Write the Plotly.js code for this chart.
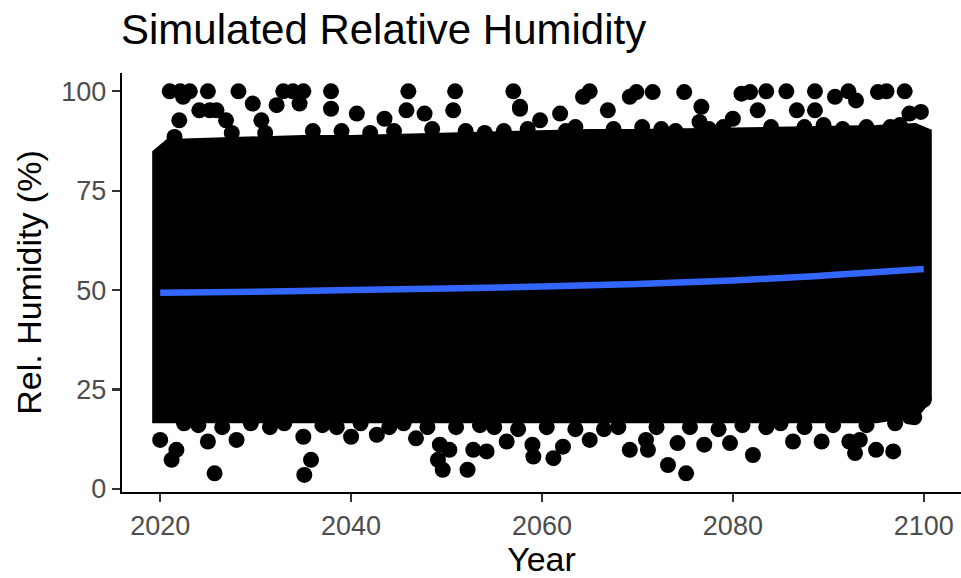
<!DOCTYPE html>
<html>
<head>
<meta charset="utf-8">
<script src="https://cdn.plot.ly/plotly-3.0.1.min.js"></script>
<style>
  html, body { margin: 0; padding: 0; background: #ffffff; }
  #chart { width: 961px; height: 578px; }
</style>
</head>
<body>
<div id="chart"></div>
<script>
// Dense body of the simulated cloud: upper and lower envelope (marker centres) by year
const envYears = [2020, 2021, 2025, 2030, 2035, 2040, 2045, 2050, 2055, 2060, 2065, 2070, 2075, 2080, 2085, 2090, 2095, 2099, 2100];
const envUpper = [84, 86, 86.5, 86.5, 87, 87, 87.5, 87.5, 88, 88, 88.5, 88.5, 88.5, 89, 89, 89, 89.5, 90, 89];
const envLower = [18.5, 18.5, 19, 19, 19.5, 19.5, 19, 19, 18.5, 18.5, 18.5, 18.5, 18.5, 18.5, 18.5, 18.5, 18.5, 20, 23];

// Individual humid days standing out above the cloud
const highYears = [2021.0, 2022.1, 2023.1, 2025.0, 2028.2, 2032.9, 2033.9, 2035.0, 2037.9, 2046.0, 2050.9, 2057.0,
  2022.4, 2029.7, 2032.2, 2034.6, 2024.1, 2025.2, 2025.9, 2022.0, 2030.6, 2057.7, 2037.9, 2045.8, 2047.7, 2050.7, 2040.6, 2043.5, 2026.9,
  2065.0, 2064.3, 2069.9, 2069.2, 2071.6, 2074.9, 2076.7, 2080.9, 2081.8, 2083.5, 2085.6, 2088.6, 2090.7, 2092.1, 2092.9, 2095.2, 2096.1, 2098.0,
  2088.6, 2086.7, 2082.6, 2066.9, 2061.9, 2059.8, 2057.7, 2099.7, 2098.5, 2080.0, 2076.5,
  2021.5, 2027.5, 2031.0, 2036.0, 2039.0, 2042.0, 2044.5, 2048.5, 2052.0, 2054.0, 2056.0, 2058.5, 2062.5, 2063.5,
  2067.5, 2070.5, 2072.5, 2074.0, 2077.5, 2079.0, 2084.0, 2087.5, 2089.5, 2091.5, 2094.0, 2096.5, 2097.5];
const highValues = [100, 100, 100, 100, 100, 100, 100, 100, 100, 100, 100, 100,
  98.6, 96.9, 96.5, 96.9, 95.2, 95.2, 95.2, 92.7, 92.7, 95.6, 95.6, 95.2, 94.4, 95.2, 94.4, 93.1, 92.7,
  100, 98.6, 99.8, 98.6, 99.8, 99.8, 96.1, 99.4, 99.8, 100, 100, 100, 98.6, 100, 97.7, 99.8, 100, 100,
  95.2, 95.2, 95.2, 95.2, 94.4, 92.7, 96.1, 94.8, 94.4, 93.1, 92.3,
  88.5, 89.5, 89.5, 90, 90, 89.5, 90, 90.5, 90, 89.5, 90, 90.5, 90, 91,
  90.5, 91, 90.5, 90, 90.5, 91, 91, 91, 91.5, 90.5, 91, 91, 91.5];

// Individual dry days standing out below the cloud
const lowYears = [2021.2, 2021.7, 2020.0, 2025.7, 2025.0, 2028.0, 2035.1, 2035.8, 2035.0, 2040.0, 2042.7, 2046.8,
  2049.1, 2049.6, 2049.3, 2050.3, 2052.2, 2052.8, 2054.2, 2056.3, 2059.1, 2061.2, 2062.2, 2069.2, 2071.1, 2070.9,
  2073.2, 2075.1, 2074.2, 2077.0, 2079.7, 2082.1, 2086.3, 2089.3, 2092.2, 2093.3, 2092.8, 2095.0, 2096.8, 2065.0,
  2059.0, 2098.5, 2100.0,
  2022.5, 2024.0, 2026.5, 2029.5, 2031.5, 2033.0, 2037.0, 2038.5, 2041.0, 2044.0, 2045.5, 2048.0, 2051.0, 2053.5,
  2055.0, 2057.5, 2060.5, 2063.5, 2066.5, 2068.0, 2072.0, 2075.5, 2078.5, 2081.0, 2083.5, 2085.0, 2087.5, 2090.5,
  2094.0, 2097.0, 2099.0];
const lowValues = [7.3, 9.8, 12.3, 3.9, 11.9, 12.3, 3.5, 7.3, 13.1, 13.1, 13.6, 12.7,
  7.3, 4.8, 11.1, 9.8, 4.8, 9.8, 9.4, 11.9, 8.1, 7.7, 10.6, 9.8, 9.8, 12.3,
  6.0, 3.9, 11.5, 11.1, 11.5, 8.5, 11.9, 11.9, 11.9, 12.3, 9.0, 9.8, 9.4, 12.3,
  11.1, 18.2, 22.4,
  16.5, 16, 15.5, 16.5, 15.5, 16.5, 16, 15.5, 16.5, 15.5, 16.5, 15.5, 15.5, 16,
  15.5, 15, 15.5, 15, 15, 15.5, 15.5, 15.5, 15, 16, 15.5, 16.5, 15.5, 16,
  16, 16.5, 18];

// Smoothed trend
const trendYears = [2020, 2030, 2040, 2050, 2060, 2070, 2080, 2090, 2100];
const trendValues = [49.3, 49.6, 50.0, 50.4, 50.9, 51.5, 52.4, 53.7, 55.3];

const xTicks = [2020, 2040, 2060, 2080, 2100];
const yTicks = [0, 25, 50, 75, 100];

const FONT = 'Liberation Sans, Arial, Helvetica, sans-serif';
const DOT = 16;

// Closed outline of the dense body. The path starts and ends half-way up the
// left edge so the thick stroke wraps round every corner without a seam.
const leftMid = (envUpper[0] + envLower[0]) / 2;
const coreX = [envYears[0]].concat(envYears, envYears.slice().reverse(), [envYears[0]]);
const coreY = [leftMid].concat(envUpper, envLower.slice().reverse(), [leftMid]);

const traces = [
  {
    x: coreX, y: coreY, type: 'scatter', mode: 'lines',
    fill: 'toself', fillcolor: '#000000',
    line: { color: '#000000', width: DOT },
    hoverinfo: 'skip'
  },
  {
    x: highYears, y: highValues, type: 'scatter', mode: 'markers',
    marker: { color: '#000000', size: DOT, line: { width: 0 } }
  },
  {
    x: lowYears, y: lowValues, type: 'scatter', mode: 'markers',
    marker: { color: '#000000', size: DOT, line: { width: 0 } }
  },
  {
    x: trendYears, y: trendValues, type: 'scatter', mode: 'lines',
    line: { color: '#3366FF', width: 6.5, shape: 'spline' }
  }
];

const axisCommon = {
  showgrid: false, zeroline: false,
  showline: true, linecolor: '#000000', linewidth: 2.2,
  ticks: 'outside', ticklen: 8, tickwidth: 2.2, tickcolor: '#333333',
  tickfont: { family: FONT, size: 27, color: '#4D4D4D' }
};

const layout = {
  width: 961, height: 578,
  margin: { l: 122, r: 0, t: 73, b: 86, pad: 0 },
  paper_bgcolor: '#ffffff', plot_bgcolor: '#ffffff',
  showlegend: false,
  font: { family: FONT },
  title: {
    text: 'Simulated Relative Humidity',
    font: { family: FONT, size: 42, color: '#000000' },
    xref: 'container', x: 121 / 961, xanchor: 'left',
    yref: 'container', y: 1 - 15 / 578, yanchor: 'top'
  },
  xaxis: Object.assign({}, axisCommon, {
    range: [2016, 2103.9], tickvals: xTicks,
    title: { text: 'Year', font: { family: FONT, size: 34, color: '#000000' }, standoff: 6 }
  }),
  yaxis: Object.assign({}, axisCommon, {
    range: [-0.8, 104.6], tickvals: yTicks,
    title: { text: 'Rel. Humidity (%)', font: { family: FONT, size: 34, color: '#000000' }, standoff: 10 }
  })
};

Plotly.newPlot('chart', traces, layout, { staticPlot: true, displayModeBar: false });
</script>
</body>
</html>
